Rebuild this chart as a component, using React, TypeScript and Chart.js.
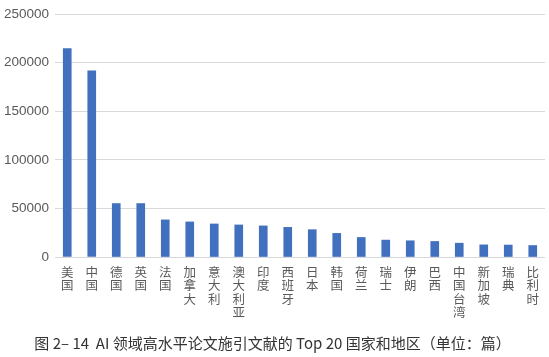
import React, { useEffect, useRef } from "react";
import { Chart, registerables } from "chart.js";

Chart.register(...registerables);

const categories = ["美国", "中国", "德国", "英国", "法国", "加拿大", "意大利", "澳大利亚", "印度", "西班牙", "日本", "韩国", "荷兰", "瑞士", "伊朗", "巴西", "中国台湾", "新加坡", "瑞典", "比利时"];
const values = [214500, 191500, 55000, 55000, 38200, 36100, 34000, 33000, 32000, 30500, 28100, 24300, 20100, 17400, 16700, 16000, 14200, 12500, 12300, 11800];
const yTicks = [0, 50000, 100000, 150000, 200000, 250000];
const titleText = "图 2– 14  AI 领域高水平论文施引文献的 Top 20 国家和地区（单位：篇）";

export default function App() {
  const ref = useRef<HTMLCanvasElement>(null);
  useEffect(() => {
    const chart = new Chart(ref.current!, {
      type: "bar",
      data: {
        labels: categories.map((c) => c.split("")),
        datasets: [
          {
            data: values,
            backgroundColor: "#4170BE",
            borderWidth: 0,
            barThickness: 8,
          },
        ],
      },
      options: {
        animation: false,
        responsive: false,
        maintainAspectRatio: false,
        layout: { padding: { top: 12, right: 4, left: 0, bottom: 5 } },
        plugins: {
          legend: { display: false },
          tooltip: { enabled: false },
          title: {
            display: true,
            position: "bottom",
            text: titleText,
            color: "#333333",
            font: { family: "'Noto Sans CJK SC', sans-serif", size: 15, weight: "normal" },
            padding: { top: 15, bottom: 0 },
          },
        },
        scales: {
          x: {
            grid: { display: false },
            border: { display: false },
            ticks: {
              color: "#595959",
              maxRotation: 0,
              minRotation: 0,
              autoSkip: false,
              padding: 0,
              font: { family: "'Noto Sans CJK SC', sans-serif", size: 12.5, lineHeight: 1.08 },
            },
          },
          y: {
            min: 0,
            max: 250000,
            afterBuildTicks: (axis: any) => {
              axis.ticks = yTicks.map((v) => ({ value: v }));
            },
            afterFit: (axis: any) => {
              axis.width = 55;
            },
            grid: { color: "#d9d9d9", lineWidth: 1, drawTicks: false },
            border: { display: false },
            ticks: {
              color: "#595959",
              padding: 6,
              callback: (v: any) => String(v),
              font: { family: "'Liberation Sans', Arial, sans-serif", size: 13.5 },
            },
          },
        },
      },
    });
    return () => chart.destroy();
  }, []);
  return (
    <div style={{ position: "absolute", left: 0, top: 0, width: 549, height: 357, background: "#fff" }}>
      <canvas ref={ref} width={549} height={357} />
    </div>
  );
}
